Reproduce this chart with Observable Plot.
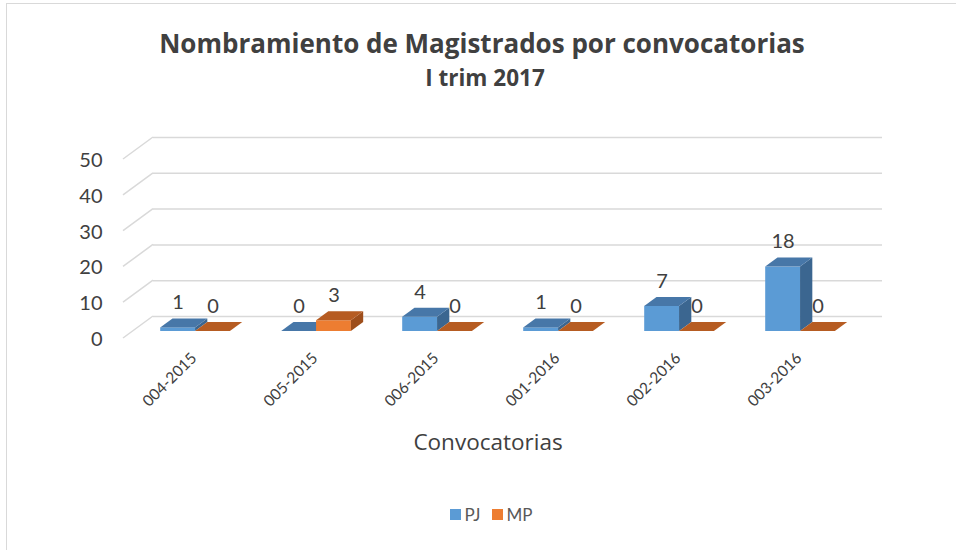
<!DOCTYPE html>
<html>
<head>
<meta charset="utf-8">
<script src="https://cdn.jsdelivr.net/npm/d3@7"></script>
<script src="https://cdn.jsdelivr.net/npm/@observablehq/plot@0.6"></script>
<style>
  html, body { margin: 0; padding: 0; background: #fff; }
  body { width: 956px; height: 550px; overflow: hidden; position: relative; font-family: Lato, "Open Sans", sans-serif; color: #404040; }
  #frame { position: absolute; left: 6px; top: 3px; width: 1000px; height: 600px; border: 1.5px solid #d9d9d9; box-sizing: border-box; }
  #chart { position: absolute; left: 0; top: 0; }
  .t { position: absolute; left: 0; width: 956px; text-align: center; white-space: nowrap; box-sizing: border-box; }
  #title { top: 28px; font-family: "Open Sans", sans-serif; font-size: 26px; font-weight: 700; line-height: 30px; padding-left: 8px; }
  #subtitle { top: 65px; font-family: "Open Sans", sans-serif; font-size: 22.5px; font-weight: 700; line-height: 26px; padding-left: 14px; }
  #xtitle { top: 428px; font-family: "Open Sans", sans-serif; font-size: 22.5px; line-height: 28px; padding-left: 20px; }
  #legend { position: absolute; top: 504px; left: 0; width: 956px; display: flex; justify-content: center; gap: 11px; padding-left: 26px; box-sizing: border-box; font-size: 17px; color: #595959; }
  #legend span.item { display: flex; align-items: center; gap: 4px; }
  #legend i { display: inline-block; width: 11px; height: 11px; }
</style>
</head>
<body>
<div id="frame"></div>
<div id="chart"></div>
<div id="title" class="t">Nombramiento de Magistrados por convocatorias</div>
<div id="subtitle" class="t">I trim 2017</div>
<div id="xtitle" class="t">Convocatorias</div>
<div id="legend"></div>
<script>
// ---- data ----
const categories = ["004-2015", "005-2015", "006-2015", "001-2016", "002-2016", "003-2016"];
const pjValues = [1, 0, 4, 1, 7, 18];
const mpValues = [0, 3, 0, 0, 0, 0];
const seriesNames = ["PJ", "MP"];
const yTicks = [0, 10, 20, 30, 40, 50];

// ---- styles ----
const palette = {
  PJ: {front: "#5B9BD5", top: "#4777A8", side: "#3B6690"},
  MP: {front: "#ED7D31", top: "#B65C22", side: "#9E4E1B"}
};
const K = 30 / 22;      // horizontal shift per px of depth
const FRONT = 15;       // depth of bar front from back wall (px)
const BACK = 6;         // depth of bar back from back wall (px)
const FLOOR = 22;       // depth of floor front edge

const rows = categories.flatMap((c, i) => [
  {cat: c, series: "PJ", value: pjValues[i]},
  {cat: c, series: "MP", value: mpValues[i]}
]);

function bandwidthOf(x, dimensions) {
  return x.bandwidth ? x.bandwidth()
    : (dimensions.width - dimensions.marginLeft - dimensions.marginRight) / categories.length;
}

function floorLines(index, scales, values, dimensions) {
  const g = d3.create("svg:g").attr("stroke", "#d9d9d9").attr("stroke-width", 1.5).attr("fill", "none");
  const x0 = dimensions.marginLeft;
  for (const i of index) {
    const yy = scales.y(yTicks[i]);
    g.append("path").attr("d", `M${x0},${yy}L${x0 - K * FLOOR},${yy + FLOOR}`);
  }
  return g.node();
}

function bars3d(index, scales, values, dimensions) {
  const g = d3.create("svg:g");
  const x = scales.x, y = scales.y;
  const bw = bandwidthOf(x, dimensions);
  const w = bw * 0.288;
  const dd = FRONT - BACK, ox = K * dd, oy = dd;
  for (const i of index) {
    const r = rows[i];
    const xc = x(r.cat) + bw / 2 - K * FRONT;
    const x0 = r.series === "PJ" ? xc - w : xc;
    const x1 = x0 + w;
    const yb = y(0) + FRONT, yt = y(r.value) + FRONT;
    const p = palette[r.series];
    if (yb - yt > 0.5) {
      g.append("rect").attr("x", x0).attr("y", yt).attr("width", w).attr("height", yb - yt).attr("fill", p.front);
      g.append("path").attr("fill", p.side)
        .attr("d", `M${x1},${yt}L${x1 + ox},${yt - oy}L${x1 + ox},${yb - oy}L${x1},${yb}Z`);
    }
    g.append("path").attr("fill", p.top)
      .attr("d", `M${x0},${yt}L${x1},${yt}L${x1 + ox},${yt - oy}L${x0 + ox},${yt - oy}Z`);
  }
  return g.node();
}

const bw0 = (956 - 153 - 74) / categories.length;
const wBar = bw0 * 0.288;

const chart = Plot.plot({
  width: 956,
  height: 550,
  marginLeft: 153,
  marginRight: 74,
  marginTop: 137,
  marginBottom: 234,
  x: {domain: categories, padding: 0, axis: null},
  y: {domain: [0, 50], axis: null},
  style: {fontFamily: "Lato, 'Open Sans', sans-serif", color: "#404040", background: "transparent", overflow: "visible"},
  marks: [
    Plot.ruleY(yTicks, {y: d => d, stroke: "#d9d9d9", strokeWidth: 1.5}),
    Plot.ruleY(yTicks, {y: d => d, render: floorLines}),
    Plot.text(yTicks, {y: d => d, text: d => String(d), frameAnchor: "left", dx: -51, dy: 23, textAnchor: "end", fontSize: 20, fill: "#404040"}),
    Plot.barY(rows, {x: "cat", y: "value", render: bars3d}),
    Plot.text(rows.filter(r => r.series === "PJ"), {x: "cat", y: "value", text: d => String(d.value), dx: -K * FRONT - wBar / 2, dy: -10, fontSize: 20, fill: "#404040"}),
    Plot.text(rows.filter(r => r.series === "MP"), {x: "cat", y: "value", text: d => String(d.value), dx: -K * FRONT + wBar / 2, dy: -10, fontSize: 20, fill: "#404040"}),
    Plot.text(categories, {x: d => d, y: () => 0, text: d => d, dx: -22, dy: 39, rotate: -45, textAnchor: "end", fontSize: 15.5, fill: "#404040"})
  ]
});
document.getElementById("chart").appendChild(chart);

const legend = document.getElementById("legend");
for (const s of seriesNames) {
  const item = document.createElement("span");
  item.className = "item";
  const sw = document.createElement("i");
  sw.style.background = palette[s].front;
  item.appendChild(sw);
  item.appendChild(document.createTextNode(s));
  legend.appendChild(item);
}
</script>
</body>
</html>
